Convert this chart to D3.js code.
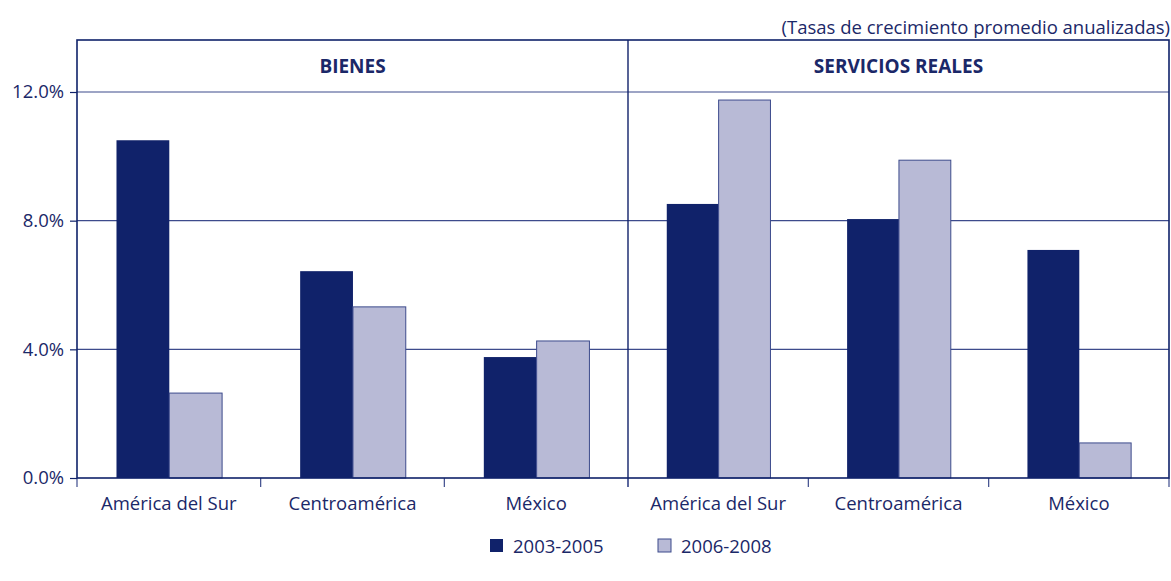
<!DOCTYPE html>
<html>
<head>
<meta charset="utf-8">
<script src="https://cdn.jsdelivr.net/npm/d3@7"></script>
<style>
  body { margin: 0; background: #fff; }
  svg text { font-family: "Open Sans", "Noto Sans", sans-serif; fill: #1b2868; }
</style>
</head>
<body>
<div id="chart"></div>
<script>
// --- DATOS ---
const panels = ["BIENES", "SERVICIOS REALES"];
const regiones = ["América del Sur", "Centroamérica", "México"];
const periodos = ["2003-2005", "2006-2008"];
const bienes2003 = [10.5, 6.43, 3.76];
const bienes2006 = [2.64, 5.32, 4.26];
const servicios2003 = [8.52, 8.05, 7.09];
const servicios2006 = [11.75, 9.88, 1.09];
const yTicks = [0, 4, 8, 12];
const subtitulo = "(Tasas de crecimiento promedio anualizadas)";

const series = [
  [bienes2003, bienes2006],
  [servicios2003, servicios2006]
];

// --- CONFIGURACIÓN ---
const W = 1171, H = 581;
const mLeft = 77, mRight = 1169, mTop = 40, mBottom = 478, divider = 628;
const navy = "#10226a", light = "#b8bad6", ink = "#1b2868";
const fs = "18.5px";

const svg = d3.select("#chart").append("svg")
  .attr("width", W).attr("height", H);

const y = d3.scaleLinear().domain([0, 12]).range([mBottom, 92]);

const panelX = d3.scaleOrdinal().domain(panels).range([[mLeft, divider], [divider, mRight]]);

// Gridlines
svg.selectAll(".grid")
  .data(yTicks.filter(d => d > 0))
  .join("line")
  .attr("x1", mLeft).attr("x2", mRight)
  .attr("y1", d => y(d)).attr("y2", d => y(d))
  .attr("stroke", "#3d4b8c").attr("stroke-width", 1.2);

// Panels
panels.forEach((p, pi) => {
  const [x0, x1] = panelX(p);
  const x = d3.scaleBand().domain(regiones).range([x0, x1]).paddingInner(0).paddingOuter(0);
  const xs = d3.scaleBand().domain(periodos).range([0, x.bandwidth() * 0.575]);
  const off = x.bandwidth() * 0.215;

  const g = svg.append("g");
  regiones.forEach((r, ri) => {
    periodos.forEach((per, si) => {
      const v = series[pi][si][ri];
      g.append("rect")
        .attr("x", x(r) + off + xs(per))
        .attr("y", y(v))
        .attr("width", xs.bandwidth())
        .attr("height", y(0) - y(v))
        .attr("fill", si === 0 ? navy : light)
        .attr("stroke", si === 0 ? "none" : "#3d4b8c")
        .attr("stroke-width", 1);
    });
  });

  // Eje x
  const ax = svg.append("g")
    .attr("transform", `translate(0,${mBottom})`)
    .call(d3.axisBottom(x).tickSize(0).tickPadding(19));
  ax.select(".domain").remove();
  ax.selectAll("text").style("font-size", fs).attr("fill", ink);

  // ticks entre categorías
  svg.selectAll(null)
    .data(regiones.map(r => x(r)).concat([x1]))
    .join("line")
    .attr("x1", d => d).attr("x2", d => d)
    .attr("y1", mBottom).attr("y2", mBottom + 9)
    .attr("stroke", "#3d4b8c").attr("stroke-width", 1.2);

  // Título del panel
  svg.append("text")
    .attr("x", (x0 + x1) / 2).attr("y", 73)
    .attr("text-anchor", "middle")
    .style("font-size", "19px").style("font-weight", "bold")
    .text(p);
});

// Marco
svg.append("rect")
  .attr("x", mLeft).attr("y", mTop)
  .attr("width", mRight - mLeft).attr("height", mBottom - mTop)
  .attr("fill", "none").attr("stroke", navy).attr("stroke-width", 1.6);
svg.append("line")
  .attr("x1", divider).attr("x2", divider).attr("y1", mTop).attr("y2", mBottom)
  .attr("stroke", navy).attr("stroke-width", 1.4);

// Eje y
const ay = svg.append("g")
  .attr("transform", `translate(${mLeft},0)`)
  .call(d3.axisLeft(y).tickValues(yTicks).tickFormat(d => d.toFixed(1) + "%").tickSize(7).tickPadding(6));
ay.select(".domain").remove();
ay.selectAll("line").attr("stroke", navy).attr("stroke-width", 1.2);
ay.selectAll("text").style("font-size", fs).attr("fill", ink);

// Subtítulo
svg.append("text")
  .attr("x", 1170).attr("y", 34)
  .attr("text-anchor", "end")
  .style("font-size", fs)
  .text(subtitulo);

// Leyenda
const legX = [490, 658];
periodos.forEach((per, i) => {
  svg.append("rect")
    .attr("x", legX[i]).attr("y", 539)
    .attr("width", 13).attr("height", 13)
    .attr("fill", i === 0 ? navy : light)
    .attr("stroke", i === 0 ? "none" : "#3d4b8c");
  svg.append("text")
    .attr("x", legX[i] + 23).attr("y", 553)
    .style("font-size", fs)
    .text(per);
});
</script>
</body>
</html>
